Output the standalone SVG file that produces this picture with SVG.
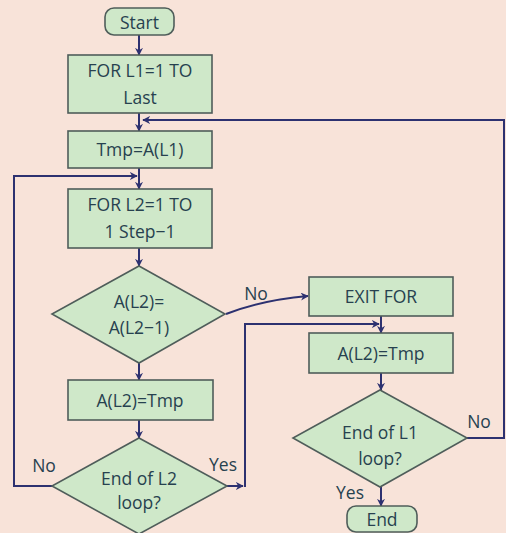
<svg xmlns="http://www.w3.org/2000/svg" width="506" height="533" viewBox="0 0 506 533">
  <style>
    .bg { fill: #f8e3d9; }
    .node { fill: #cfe8c9; stroke: #4f5d5a; stroke-width: 1.6; }
    .lbl { font-family: "Open Sans", "Lato", sans-serif; font-size: 17.5px; fill: #27414f; text-anchor: middle; dominant-baseline: central; }
    .edge { fill: none; stroke: #2d3170; stroke-width: 2; }
    .arrow { marker-end: url(#head); }
  </style>
  <defs>
    <marker id="head" viewBox="0 0 10 10" refX="9" refY="5" markerWidth="8" markerHeight="8" markerUnits="userSpaceOnUse" orient="auto">
      <path d="M0,0 L10,5 L0,10 L3,5 Z" fill="#2d3170"/>
    </marker>
  </defs>

  <rect class="bg" x="0" y="0" width="506" height="533"/>

  <!-- connectors -->
  <g id="connectors">
    <path class="edge arrow" d="M139,35 V55"/>
    <path class="edge arrow" d="M139,113 V131"/>
    <path class="edge arrow" d="M467,438 H504 V120 H143"/>
    <path class="edge arrow" d="M139,168 V189"/>
    <path class="edge arrow" d="M52,486 H14 V176 H137"/>
    <path class="edge arrow" d="M139,248 V266"/>
    <path class="edge arrow" d="M139,363 V380"/>
    <path class="edge arrow" d="M139,420 V438"/>
    <path class="edge arrow" d="M226,314 Q262,300 308,296"/>
    <path class="edge arrow" d="M227,486 H243"/>
    <path class="edge arrow" d="M245,487 V324 H379"/>
    <path class="edge arrow" d="M381,316 V333"/>
    <path class="edge arrow" d="M381,373 V390"/>
    <path class="edge arrow" d="M381,487 V506"/>
  </g>

  <g id="start">
    <rect class="node" x="105" y="8" width="69" height="27" rx="9"/>
    <text class="lbl" x="139.5" y="21.5">Start</text>
  </g>

  <g id="for-l1">
    <rect class="node" x="68" y="55" width="144" height="58"/>
    <text class="lbl" x="140" y="70">FOR L1=1 TO</text>
    <text class="lbl" x="140" y="97">Last</text>
  </g>

  <g id="tmp-assign">
    <rect class="node" x="68" y="131" width="144" height="37"/>
    <text class="lbl" x="140" y="149">Tmp=A(L1)</text>
  </g>

  <g id="for-l2">
    <rect class="node" x="68" y="189" width="144" height="59"/>
    <text class="lbl" x="140" y="204">FOR L2=1 TO</text>
    <text class="lbl" x="140" y="231">1 Step−1</text>
  </g>

  <g id="compare">
    <polygon class="node" points="139,266 225,314 139,363 52,314"/>
    <text class="lbl" x="139" y="301">A(L2)=</text>
    <text class="lbl" x="139" y="327">A(L2−1)</text>
  </g>

  <g id="assign-left">
    <rect class="node" x="68" y="380" width="145" height="40"/>
    <text class="lbl" x="140" y="400">A(L2)=Tmp</text>
  </g>

  <g id="end-l2">
    <polygon class="node" points="139,438 227,486 139,534 52,486"/>
    <text class="lbl" x="139" y="478">End of L2</text>
    <text class="lbl" x="139" y="502">loop?</text>
  </g>

  <g id="exit-for">
    <rect class="node" x="309" y="277" width="144" height="39"/>
    <text class="lbl" x="381" y="296">EXIT FOR</text>
  </g>

  <g id="assign-right">
    <rect class="node" x="309" y="333" width="144" height="40"/>
    <text class="lbl" x="381" y="353">A(L2)=Tmp</text>
  </g>

  <g id="end-l1">
    <polygon class="node" points="380,390 467,438 380,487 293,438"/>
    <text class="lbl" x="380" y="432">End of L1</text>
    <text class="lbl" x="380" y="458">loop?</text>
  </g>

  <g id="end">
    <rect class="node" x="347" y="506" width="70" height="26" rx="9"/>
    <text class="lbl" x="382" y="519">End</text>
  </g>

  <g id="edge-labels">
    <text class="lbl" x="44" y="465">No</text>
    <text class="lbl" x="223" y="464">Yes</text>
    <text class="lbl" x="256" y="293">No</text>
    <text class="lbl" x="479" y="421">No</text>
    <text class="lbl" x="350" y="492">Yes</text>
  </g>
</svg>
